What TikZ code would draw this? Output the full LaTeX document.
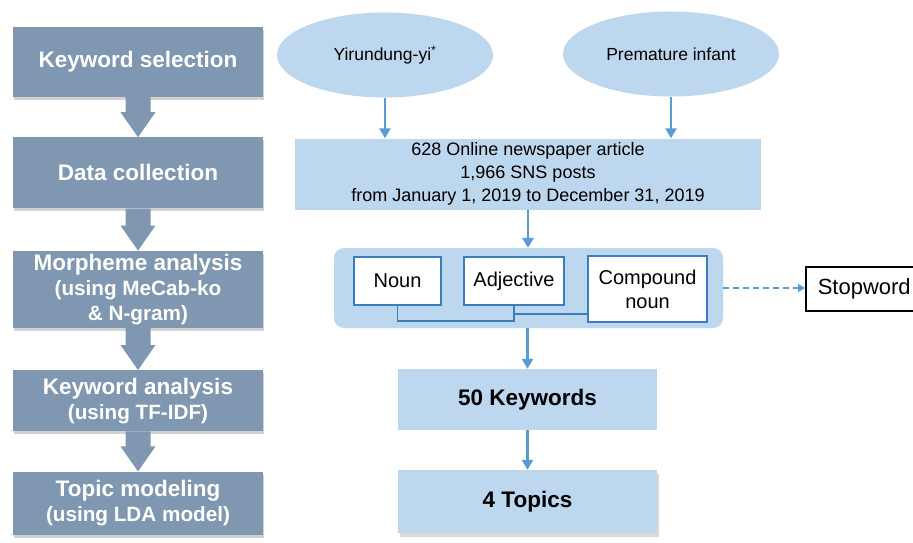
\documentclass[tikz,border=0pt]{standalone}
\usepackage{fontspec}
\setmainfont{Liberation Sans}
\usetikzlibrary{positioning}
\usetikzlibrary{arrows.meta}
\usetikzlibrary{shapes.geometric}
\usetikzlibrary{shadows}
\usetikzlibrary{calc}

\definecolor{stepgray}{RGB}{128,151,178}
\definecolor{paleblue}{RGB}{189,215,238}
\definecolor{linkblue}{RGB}{91,155,213}
\definecolor{edgeblue}{RGB}{58,126,192}

\newcommand{\subline}[1]{{\fontsize{20.7}{24}\selectfont #1}}

\begin{document}
\begin{tikzpicture}[x=1pt, y=-1pt,
			stepbox/.style={fill=stepgray, text=white, minimum width=250pt, inner sep=0pt, align=center, font=\bfseries\fontsize{22.5}{25}\selectfont, drop shadow={opacity=0.35, shadow xshift=1pt, shadow yshift=-3pt}},
			ellip/.style={ellipse, fill=paleblue, minimum width=216pt, minimum height=85pt, inner sep=0pt, font=\fontsize{17.5}{20}\selectfont},
			bluebox/.style={fill=paleblue, align=center, inner sep=0pt},
			posbox/.style={draw=edgeblue, line width=1.5pt, fill=white, align=center, inner sep=0pt, font=\fontsize{20}{24}\selectfont},
			flow/.style={linkblue, line width=2.8pt, -{Triangle[width=11pt,length=10pt]}}
			]
			\fill[white] (0,0) rectangle (913,543);
			\useasboundingbox (0,0) rectangle (913,543);
			
			% Steps
			\node[stepbox, minimum height=70pt] (sel) at (138,62) {Keyword selection};
			\node[stepbox, minimum height=71pt, below=40pt of sel] (coll) {Data collection};
			\node[stepbox, minimum height=77pt, below=42pt of coll] (morph) {Morpheme analysis\\\subline{(using MeCab-ko}\\\subline{\& N-gram)}};
			\node[stepbox, minimum height=61pt, below=42pt of morph] (kwa) {Keyword analysis\\\subline{(using TF-IDF)}};
			\node[stepbox, minimum height=63pt, below=40pt of kwa] (lda) {Topic modeling\\\subline{(using LDA model)}};
			
			% Block arrows
			\foreach \a/\b in {sel/coll, coll/morph, morph/kwa, kwa/lda}
			\fill[stepgray] ($(\a.south)+(-12.5,0)$) -- ($(\b.north)+(-12.5,-25)$) -- ++(-5,0) -- (\b.north)
			-- ($(\b.north)+(17.5,-25)$) -- ++(-5,0) -- ($(\a.south)+(12.5,0)$) -- cycle;
			
			% Keywords
			\node[ellip] (yi) at (385,55) {Yirundung-yi\textsuperscript{*}};
			\node[ellip] (pi) at (671,54) {Premature infant};
			
			% Collected data
			\node[bluebox, minimum width=466pt, minimum height=71pt, font=\fontsize{18}{23}\selectfont] (data) at (528,174) {628 Online newspaper article\\1,966 SNS posts\\from January 1, 2019 to December 31, 2019};
			
			% Morphemes
			\node[fill=paleblue, rounded corners=10pt, minimum width=389pt, minimum height=80pt] (morphs) at (528.5,288) {};
			\node[posbox, minimum width=87pt, minimum height=48pt] (noun) at (397.5,281) {Noun};
			\node[posbox, minimum width=100pt, minimum height=48pt] (adj) at (514,281) {Adjective};
			\node[posbox, minimum width=119pt, minimum height=66pt] (comp) at (647.5,289) {Compound\\noun};
			\node[draw=black, line width=1.5pt, minimum width=117pt, minimum height=44pt, inner sep=0pt, anchor=west, font=\fontsize{22}{26}\selectfont] (stop) at (805,289) {Stopword};
			
			% Results
			\node[bluebox, minimum width=259pt, minimum height=61pt, font=\bfseries\fontsize{22.5}{26}\selectfont] (kw) at (527.5,399.5) {50 Keywords};
			\node[bluebox, minimum width=259pt, minimum height=63pt, font=\bfseries\fontsize{22.5}{26}\selectfont, drop shadow={opacity=0.3, shadow xshift=2pt, shadow yshift=-4pt}] (topics) at (527.5,501.5) {4 Topics};
			
			% Arrows
			\draw[flow] (yi.south) -- (yi.south |- data.north);
			\draw[flow] (pi.south) -- (pi.south |- data.north);
			\draw[flow] (data.south) -- (data.south |- morphs.north);
			\draw[flow] (morphs.south -| kw.north) -- (kw.north);
			\draw[flow] (kw.south) -- (topics.north);
			\draw[edgeblue, line width=1.5pt] (noun.south) -- ++(0,15) -| (adj.south);
			\draw[edgeblue, line width=1.5pt] (adj.south) ++(0,8) coordinate (join) -- (join -| comp.west);
			\draw[linkblue, line width=1.2pt, dash pattern=on 6pt off 4pt, -{Triangle[width=8pt,length=7pt]}] (morphs.east) -- (morphs.east -| stop.west);
		\end{tikzpicture}
\end{document}
